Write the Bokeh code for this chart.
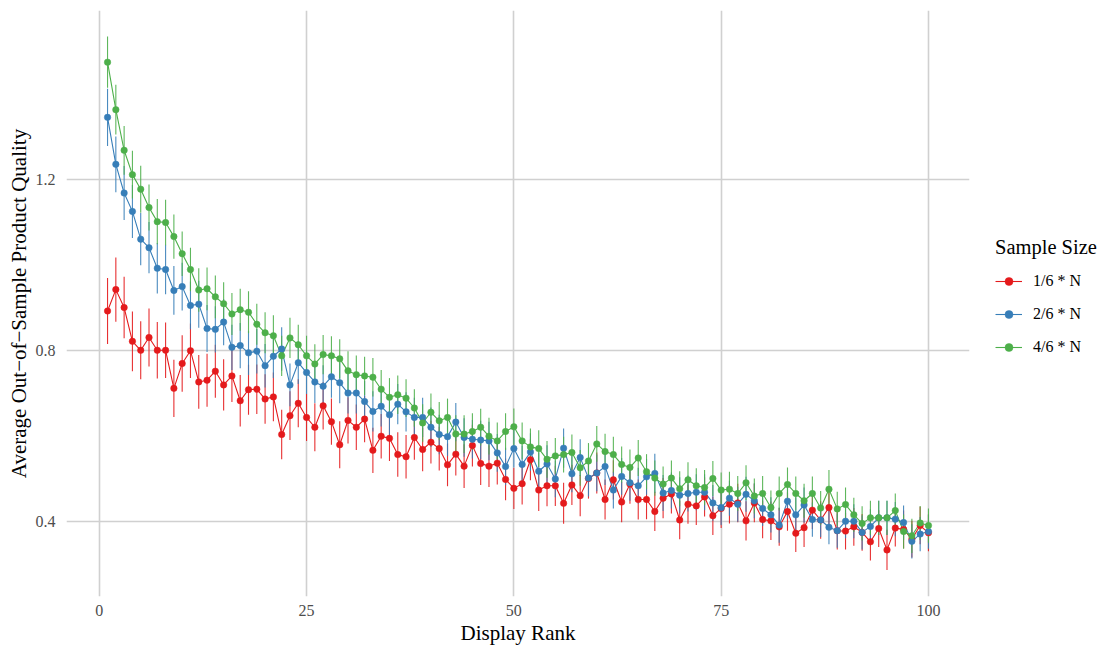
from bokeh.plotting import figure
from bokeh.models import Range1d, FixedTicker, Legend, LegendItem, ColumnDataSource
from bokeh.embed import file_html
from bokeh.resources import INLINE

ranks = list(range(1, 101))
series_labels = ["1/6 * N", "2/6 * N", "4/6 * N"]
x_ticks = [0, 25, 50, 75, 100]
y_ticks = [0.4, 0.8, 1.2]

red_vals = [0.893, 0.943, 0.901, 0.822, 0.801, 0.831, 0.801, 0.801, 0.712, 0.770,
            0.800, 0.727, 0.731, 0.752, 0.720, 0.741, 0.683, 0.709, 0.710, 0.687,
            0.692, 0.604, 0.648, 0.677, 0.644, 0.621, 0.671, 0.634, 0.580, 0.637,
            0.621, 0.640, 0.567, 0.600, 0.595, 0.557, 0.552, 0.597, 0.569, 0.586,
            0.571, 0.533, 0.558, 0.530, 0.578, 0.536, 0.530, 0.537, 0.499, 0.478,
            0.489, 0.545, 0.474, 0.484, 0.484, 0.443, 0.486, 0.461, 0.501, 0.514,
            0.452, 0.498, 0.446, 0.488, 0.452, 0.452, 0.424, 0.455, 0.465, 0.404,
            0.441, 0.437, 0.458, 0.414, 0.431, 0.441, 0.444, 0.402, 0.444, 0.405,
            0.402, 0.388, 0.424, 0.373, 0.386, 0.427, 0.404, 0.433, 0.379, 0.378,
            0.388, 0.375, 0.353, 0.384, 0.334, 0.385, 0.382, 0.359, 0.391, 0.374]

blue_vals = [1.346, 1.236, 1.169, 1.126, 1.061, 1.041, 0.993, 0.990, 0.941, 0.950,
             0.906, 0.909, 0.852, 0.850, 0.867, 0.808, 0.812, 0.795, 0.799, 0.765,
             0.787, 0.804, 0.720, 0.772, 0.749, 0.727, 0.717, 0.739, 0.725, 0.701,
             0.701, 0.681, 0.658, 0.670, 0.650, 0.675, 0.657, 0.644, 0.644, 0.621,
             0.604, 0.599, 0.633, 0.597, 0.593, 0.591, 0.589, 0.561, 0.529, 0.571,
             0.534, 0.563, 0.518, 0.535, 0.500, 0.572, 0.512, 0.550, 0.502, 0.514,
             0.529, 0.474, 0.506, 0.491, 0.484, 0.505, 0.513, 0.467, 0.473, 0.462,
             0.466, 0.469, 0.469, 0.444, 0.433, 0.455, 0.441, 0.464, 0.449, 0.431,
             0.416, 0.392, 0.448, 0.416, 0.439, 0.405, 0.404, 0.387, 0.379, 0.401,
             0.401, 0.375, 0.389, 0.409, 0.409, 0.406, 0.398, 0.354, 0.371, 0.377]

green_vals = [1.475, 1.364, 1.269, 1.212, 1.178, 1.135, 1.102, 1.100, 1.067, 1.027,
              0.990, 0.942, 0.945, 0.926, 0.910, 0.886, 0.896, 0.890, 0.862, 0.842,
              0.835, 0.788, 0.830, 0.814, 0.788, 0.769, 0.791, 0.788, 0.781, 0.753,
              0.744, 0.741, 0.738, 0.710, 0.691, 0.697, 0.689, 0.666, 0.631, 0.656,
              0.636, 0.644, 0.605, 0.605, 0.611, 0.621, 0.600, 0.589, 0.611, 0.622,
              0.589, 0.575, 0.571, 0.546, 0.554, 0.557, 0.562, 0.526, 0.542, 0.582,
              0.564, 0.557, 0.534, 0.527, 0.549, 0.517, 0.502, 0.488, 0.502, 0.477,
              0.498, 0.484, 0.480, 0.501, 0.474, 0.476, 0.466, 0.491, 0.460, 0.466,
              0.433, 0.466, 0.487, 0.466, 0.449, 0.466, 0.432, 0.476, 0.430, 0.440,
              0.416, 0.396, 0.409, 0.409, 0.409, 0.426, 0.377, 0.367, 0.397, 0.391]

red_err = [0.077, 0.075, 0.072, 0.070, 0.068, 0.068, 0.066, 0.065, 0.067, 0.066,
           0.064, 0.063, 0.062, 0.062, 0.060, 0.061, 0.060, 0.059, 0.058, 0.058,
           0.057, 0.058, 0.057, 0.056, 0.055, 0.056, 0.055, 0.054, 0.055, 0.054,
           0.053, 0.054, 0.053, 0.052, 0.053, 0.052, 0.051, 0.052, 0.051, 0.050,
           0.051, 0.050, 0.050, 0.051, 0.049, 0.050, 0.049, 0.050, 0.049, 0.048,
           0.049, 0.048, 0.049, 0.048, 0.047, 0.048, 0.047, 0.048, 0.047, 0.048,
           0.047, 0.046, 0.047, 0.046, 0.047, 0.046, 0.046, 0.047, 0.046, 0.045,
           0.046, 0.045, 0.046, 0.045, 0.046, 0.045, 0.045, 0.046, 0.045, 0.044,
           0.045, 0.044, 0.045, 0.044, 0.045, 0.044, 0.044, 0.045, 0.044, 0.043,
           0.044, 0.043, 0.044, 0.043, 0.047, 0.043, 0.044, 0.043, 0.044, 0.043]

blue_err = [0.067, 0.065, 0.063, 0.062, 0.061, 0.060, 0.059, 0.058, 0.057, 0.056,
            0.056, 0.055, 0.055, 0.054, 0.054, 0.053, 0.053, 0.052, 0.052, 0.051,
            0.051, 0.051, 0.050, 0.050, 0.050, 0.049, 0.049, 0.049, 0.048, 0.048,
            0.048, 0.048, 0.047, 0.047, 0.047, 0.047, 0.046, 0.046, 0.046, 0.046,
            0.046, 0.045, 0.045, 0.045, 0.045, 0.045, 0.045, 0.044, 0.044, 0.044,
            0.044, 0.044, 0.044, 0.044, 0.043, 0.046, 0.043, 0.043, 0.043, 0.043,
            0.043, 0.043, 0.043, 0.042, 0.042, 0.042, 0.046, 0.042, 0.042, 0.042,
            0.042, 0.042, 0.042, 0.042, 0.041, 0.041, 0.041, 0.041, 0.041, 0.041,
            0.041, 0.041, 0.041, 0.041, 0.041, 0.040, 0.040, 0.040, 0.040, 0.040,
            0.040, 0.040, 0.040, 0.040, 0.040, 0.040, 0.040, 0.040, 0.040, 0.040]

green_err = [0.060, 0.058, 0.057, 0.056, 0.055, 0.054, 0.053, 0.053, 0.052, 0.052,
             0.051, 0.051, 0.050, 0.050, 0.050, 0.049, 0.049, 0.049, 0.048, 0.048,
             0.048, 0.047, 0.047, 0.047, 0.047, 0.046, 0.046, 0.046, 0.046, 0.046,
             0.045, 0.045, 0.045, 0.045, 0.045, 0.045, 0.044, 0.044, 0.044, 0.044,
             0.044, 0.044, 0.044, 0.044, 0.043, 0.043, 0.043, 0.043, 0.043, 0.043,
             0.043, 0.043, 0.043, 0.043, 0.042, 0.042, 0.042, 0.042, 0.042, 0.042,
             0.042, 0.042, 0.042, 0.042, 0.042, 0.041, 0.041, 0.041, 0.041, 0.041,
             0.041, 0.041, 0.041, 0.041, 0.041, 0.041, 0.041, 0.041, 0.041, 0.041,
             0.040, 0.040, 0.040, 0.040, 0.040, 0.040, 0.040, 0.045, 0.040, 0.040,
             0.040, 0.040, 0.040, 0.040, 0.040, 0.040, 0.040, 0.040, 0.040, 0.040]

colors = ["#E41A1C", "#377EB8", "#4DAF4A"]
all_vals = [red_vals, blue_vals, green_vals]
all_errs = [red_err, blue_err, green_err]

FONT = "Liberation Serif"

p = figure(frame_width=903, frame_height=586,
           x_range=Range1d(-3.95, 104.95), y_range=Range1d(0.225, 1.596),
           output_backend="svg", toolbar_location=None,
           min_border_left=66, min_border_right=133,
           min_border_top=10, min_border_bottom=50)
p.outline_line_color = None
p.background_fill_color = "white"

sources = []
for vals, errs in zip(all_vals, all_errs):
    sources.append(ColumnDataSource(dict(
        x=ranks, y=vals,
        lo=[v - e for v, e in zip(vals, errs)],
        hi=[v + e for v, e in zip(vals, errs)])))

for src, c in zip(sources, colors):
    p.segment(x0="x", y0="lo", x1="x", y1="hi", source=src,
              line_color=c, line_width=1.1, line_alpha=0.9)

line_rs = []
for src, c in zip(sources, colors):
    line_rs.append(p.line("x", "y", source=src, line_color=c, line_width=1.1))

pt_rs = []
for src, c in zip(sources, colors):
    pt_rs.append(p.scatter("x", "y", source=src, size=6.5, fill_color=c,
                           line_color=c, line_width=0.5))

p.xaxis.ticker = FixedTicker(ticks=x_ticks)
p.yaxis.ticker = FixedTicker(ticks=y_ticks)
p.xgrid.ticker = FixedTicker(ticks=x_ticks)
p.ygrid.ticker = FixedTicker(ticks=y_ticks)
for g in (p.xgrid, p.ygrid):
    g.grid_line_color = "#D0D0D0"
    g.grid_line_width = 1.6

for ax in (p.xaxis, p.yaxis):
    ax.axis_line_color = None
    ax.major_tick_line_color = None
    ax.minor_tick_line_color = None
    ax.major_tick_out = 0
    ax.major_tick_in = 0
    ax.minor_tick_out = 0
    ax.minor_tick_in = 0
    ax.major_label_text_font = FONT
    ax.major_label_text_font_size = "16px"
    ax.major_label_text_color = "#4D4D4D"
    ax.axis_label_text_font = FONT
    ax.axis_label_text_font_size = "21px"
    ax.axis_label_text_font_style = "normal"
    ax.axis_label_text_color = "black"

p.xaxis.axis_label = "Display Rank"
p.yaxis.axis_label = "Average Out\u2212of\u2212Sample Product Quality"
p.xaxis.major_label_standoff = 8
p.xaxis.axis_label_standoff = 2
p.yaxis.major_label_standoff = 11
p.yaxis.axis_label_standoff = 2

items = [LegendItem(label=lab, renderers=[lr, sr])
         for lab, lr, sr in zip(series_labels, line_rs, pt_rs)]
legend = Legend(items=items, title="Sample Size", location=(26, 239),
                orientation="vertical")
legend.title_text_font = FONT
legend.title_text_font_size = "20.5px"
legend.title_text_font_style = "normal"
legend.title_text_color = "black"
legend.label_text_font = FONT
legend.label_text_font_size = "16px"
legend.label_text_color = "black"
legend.background_fill_alpha = 0
legend.border_line_alpha = 0
legend.padding = 0
legend.margin = 0
legend.glyph_width = 27
legend.glyph_height = 20
legend.label_height = 20
legend.spacing = 13
legend.title_standoff = 12
legend.label_standoff = 11
p.add_layout(legend, "right")

open("out.html", "w").write(file_html(p, INLINE))
